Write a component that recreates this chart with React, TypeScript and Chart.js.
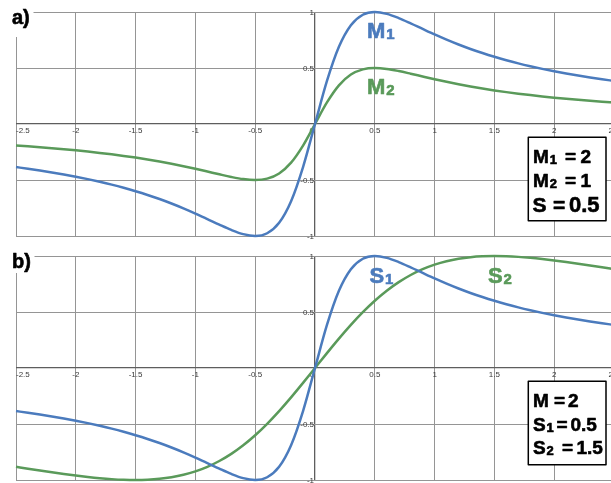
import { useEffect, useRef } from "react";
import { Chart, registerables } from "chart.js";

Chart.register(...registerables);

// ---------- data ----------
const xValues = [
  -2.5, -2.4, -2.3, -2.2, -2.1, -2.0, -1.9, -1.8, -1.7, -1.6, -1.5, -1.4, -1.3,
  -1.2, -1.1, -1.0, -0.9, -0.8, -0.7, -0.6, -0.5, -0.4, -0.3, -0.2, -0.1, 0,
  0.1, 0.2, 0.3, 0.4, 0.5, 0.6, 0.7, 0.8, 0.9, 1.0, 1.1, 1.2, 1.3, 1.4, 1.5,
  1.6, 1.7, 1.8, 1.9, 2.0, 2.1, 2.2, 2.3, 2.4, 2.5,
];

// panel a) blue curve M1
const curveM1 = [
  -0.3846, -0.3993, -0.4152, -0.4322, -0.4506, -0.4706, -0.4922, -0.5158, -0.5414,
  -0.5694, -0.6, -0.6335, -0.6701, -0.7101, -0.7534, -0.8, -0.8491, -0.8989,
  -0.9459, -0.9836, -1, -0.9756, -0.8824, -0.6897, -0.3846, 0,
  0.3846, 0.6897, 0.8824, 0.9756, 1, 0.9836, 0.9459, 0.8989, 0.8491, 0.8,
  0.7534, 0.7101, 0.6701, 0.6335, 0.6, 0.5694, 0.5414, 0.5158, 0.4922, 0.4706,
  0.4506, 0.4322, 0.4152, 0.3993, 0.3846,
];

// panel a) green curve M2
const curveM2 = [
  -0.1923, -0.1997, -0.2076, -0.2161, -0.2253, -0.2353, -0.2461, -0.2579, -0.2707,
  -0.2847, -0.3, -0.3167, -0.3351, -0.355, -0.3767, -0.4, -0.4245, -0.4494,
  -0.473, -0.4918, -0.5, -0.4878, -0.4412, -0.3448, -0.1923, 0,
  0.1923, 0.3448, 0.4412, 0.4878, 0.5, 0.4918, 0.473, 0.4494, 0.4245, 0.4,
  0.3767, 0.355, 0.3351, 0.3167, 0.3, 0.2847, 0.2707, 0.2579, 0.2461, 0.2353,
  0.2253, 0.2161, 0.2076, 0.1997, 0.1923,
];

// panel b) blue curve S1 (same shape as M1)
const curveS1 = [
  -0.3846, -0.3993, -0.4152, -0.4322, -0.4506, -0.4706, -0.4922, -0.5158, -0.5414,
  -0.5694, -0.6, -0.6335, -0.6701, -0.7101, -0.7534, -0.8, -0.8491, -0.8989,
  -0.9459, -0.9836, -1, -0.9756, -0.8824, -0.6897, -0.3846, 0,
  0.3846, 0.6897, 0.8824, 0.9756, 1, 0.9836, 0.9459, 0.8989, 0.8491, 0.8,
  0.7534, 0.7101, 0.6701, 0.6335, 0.6, 0.5694, 0.5414, 0.5158, 0.4922, 0.4706,
  0.4506, 0.4322, 0.4152, 0.3993, 0.3846,
];

// panel b) green curve S2
const curveS2 = [
  -0.8824, -0.8989, -0.9151, -0.9309, -0.9459, -0.96, -0.9727, -0.9836, -0.9922,
  -0.9979, -1, -0.9976, -0.9898, -0.9756, -0.9538, -0.9231, -0.8824, -0.8304,
  -0.7664, -0.6897, -0.6, -0.4979, -0.3846, -0.262, -0.1327, 0,
  0.1327, 0.262, 0.3846, 0.4979, 0.6, 0.6897, 0.7664, 0.8304, 0.8824, 0.9231,
  0.9538, 0.9756, 0.9898, 0.9976, 1, 0.9979, 0.9922, 0.9836, 0.9727, 0.96,
  0.9459, 0.9309, 0.9151, 0.8989, 0.8824,
];

const xTickLabels = ["-2.5", "-2", "-1.5", "-1", "-0.5", "0", "0.5", "1", "1.5", "2", "2.5"];
const yTickLabels = ["-1", "-0.5", "0", "0.5", "1"];

// ---------- styles ----------
const BLUE = "#4b7bbd";
const GREEN = "#5a9a5a";
const FONT = '"Liberation Sans", Arial, Helvetica, sans-serif';

type Seg = { t: string; x: number; size: number; sub?: string };
type BoxLine = { baseline: number; segs: Seg[] };
type CurveLabel = { main: string; sub: string; x: number; baseline: number; color: string };

type PanelSpec = {
  height: number;
  padTop: number;
  padBottom: number;
  panelLabel: string;
  labelBaseline: number;
  corner: [number, number, number, number];
  curves: { data: number[]; color: string }[];
  curveLabels: CurveLabel[];
  box: [number, number, number, number];
  boxLines: BoxLine[];
};

const panelA: PanelSpec = {
  height: 246,
  padTop: 12,
  padBottom: 10,
  panelLabel: "a)",
  labelBaseline: 24,
  corner: [9, 0, 24.5, 37],
  curves: [
    { data: curveM1, color: BLUE },
    { data: curveM2, color: GREEN },
  ],
  curveLabels: [
    { main: "M", sub: "1", x: 367, baseline: 38, color: BLUE },
    { main: "M", sub: "2", x: 367, baseline: 93.5, color: GREEN },
  ],
  box: [528.3, 137.3, 77.7, 83.4],
  boxLines: [
    { baseline: 162.5, segs: [{ t: "M", x: 533, size: 19, sub: "1" }, { t: "=", x: 565, size: 19 }, { t: "2", x: 580.5, size: 19 }] },
    { baseline: 187, segs: [{ t: "M", x: 533, size: 19, sub: "2" }, { t: "=", x: 565, size: 19 }, { t: "1", x: 580.5, size: 19 }] },
    { baseline: 211.5, segs: [{ t: "S", x: 532.5, size: 21 }, { t: "=", x: 553, size: 21 }, { t: "0.5", x: 569, size: 22 }] },
  ],
};

const panelB: PanelSpec = {
  height: 237,
  padTop: 10,
  padBottom: 3,
  panelLabel: "b)",
  labelBaseline: 22,
  corner: [9, 0, 25.5, 27],
  curves: [
    { data: curveS1, color: BLUE },
    { data: curveS2, color: GREEN },
  ],
  curveLabels: [
    { main: "S", sub: "1", x: 369.5, baseline: 37, color: BLUE },
    { main: "S", sub: "2", x: 488, baseline: 37, color: GREEN },
  ],
  box: [528.3, 135.3, 77.7, 83.4],
  boxLines: [
    { baseline: 161, segs: [{ t: "M", x: 533, size: 19 }, { t: "=", x: 554, size: 19 }, { t: "2", x: 568, size: 19 }] },
    { baseline: 184.5, segs: [{ t: "S", x: 533, size: 19, sub: "1" }, { t: "=", x: 556.5, size: 19 }, { t: "0.5", x: 570.5, size: 19 }] },
    { baseline: 208, segs: [{ t: "S", x: 533, size: 19, sub: "2" }, { t: "=", x: 562, size: 19 }, { t: "1.5", x: 576.5, size: 19 }] },
  ],
};

function heavyText(ctx: CanvasRenderingContext2D, t: string, x: number, y: number) {
  ctx.fillText(t, x, y);
  ctx.strokeText(t, x, y);
}

function drawMainSub(ctx: CanvasRenderingContext2D, main: string, sub: string | undefined, x: number, baseline: number, size: number) {
  ctx.font = `bold ${size}px ${FONT}`;
  heavyText(ctx, main, x, baseline);
  if (sub) {
    const w = ctx.measureText(main).width;
    ctx.font = `bold ${Math.round(size * 0.66)}px ${FONT}`;
    heavyText(ctx, sub, x + w + 0.8, baseline + 1);
  }
}

function makePlugin(p: PanelSpec) {
  return {
    id: "panelDecor",
    beforeDatasetsDraw(chart: any) {
      const ctx: CanvasRenderingContext2D = chart.ctx;
      const xs = chart.scales.x;
      const ys = chart.scales.y;
      const x0 = xs.getPixelForValue(0);
      const y0 = ys.getPixelForValue(0);
      ctx.save();
      // white patch behind the panel label
      ctx.fillStyle = "#ffffff";
      ctx.fillRect(p.corner[0], p.corner[1], p.corner[2], p.corner[3]);
      // tick labels placed along the centred axes
      ctx.font = `8px ${FONT}`;
      ctx.fillStyle = "#3a3a3a";
      ctx.textBaseline = "top";
      xTickLabels.forEach((t, i) => {
        const v = Number(t);
        if (v === 0) return;
        ctx.textAlign = i === 0 ? "left" : "center";
        ctx.fillText(t, xs.getPixelForValue(v), y0 + 2.5);
      });
      ctx.textAlign = "right";
      ctx.fillText("0", x0 - 1, y0 + 2.5);
      ctx.textBaseline = "middle";
      yTickLabels.forEach((t) => {
        const v = Number(t);
        if (v === 0) return;
        ctx.fillText(t, x0 - 1, ys.getPixelForValue(v) + 0.5);
      });
      ctx.restore();
    },
    afterDatasetsDraw(chart: any) {
      const ctx: CanvasRenderingContext2D = chart.ctx;
      ctx.save();
      ctx.textAlign = "left";
      ctx.textBaseline = "alphabetic";
      ctx.lineJoin = "round";
      // panel label
      ctx.fillStyle = "#000";
      ctx.strokeStyle = "#000";
      ctx.lineWidth = 0.6;
      ctx.font = `bold 20px ${FONT}`;
      heavyText(ctx, p.panelLabel, 12, p.labelBaseline);
      // curve labels
      p.curveLabels.forEach((l) => {
        ctx.fillStyle = l.color;
        ctx.strokeStyle = l.color;
        ctx.lineWidth = 0.6;
        drawMainSub(ctx, l.main, l.sub, l.x, l.baseline, 22);
      });
      // parameter box
      const [bx, by, bw, bh] = p.box;
      ctx.fillStyle = "#fff";
      ctx.fillRect(bx, by, bw, bh);
      ctx.strokeStyle = "#000";
      ctx.lineWidth = 1.5;
      ctx.strokeRect(bx, by, bw, bh);
      ctx.fillStyle = "#000";
      ctx.lineWidth = 0.6;
      p.boxLines.forEach((line) => {
        line.segs.forEach((s) => drawMainSub(ctx, s.t, s.sub, s.x, line.baseline, s.size));
      });
      ctx.restore();
    },
  };
}

function Panel({ spec }: { spec: PanelSpec }) {
  const ref = useRef<HTMLCanvasElement | null>(null);
  useEffect(() => {
    if (!ref.current) return;
    const gridColor = (c: any) => (c.tick && c.tick.value === 0 ? "#5e5e5e" : "#959595");
    const gridWidth = (c: any) => (c.tick && c.tick.value === 0 ? 1.3 : 1);
    const chart = new Chart(ref.current, {
      type: "line",
      data: {
        datasets: spec.curves.map((c) => ({
          data: xValues.map((x, i) => ({ x, y: c.data[i] })),
          borderColor: c.color,
          borderWidth: 2.5,
          pointRadius: 0,
          fill: false,
          cubicInterpolationMode: "monotone" as const,
          clip: false as any,
        })),
      },
      options: {
        animation: false,
        responsive: false,
        devicePixelRatio: 1,
        events: [],
        layout: { padding: { left: 16, right: 6, top: spec.padTop, bottom: spec.padBottom } },
        plugins: { legend: { display: false }, tooltip: { enabled: false } },
        scales: {
          x: {
            type: "linear",
            min: -2.5,
            max: 2.5,
            ticks: { display: false, stepSize: 0.5 },
            grid: { color: gridColor, lineWidth: gridWidth, drawTicks: false },
            border: { display: false },
          },
          y: {
            type: "linear",
            min: -1,
            max: 1,
            ticks: { display: false, stepSize: 0.5 },
            grid: { color: gridColor, lineWidth: gridWidth, drawTicks: false },
            border: { display: false },
          },
        },
      },
      plugins: [makePlugin(spec)],
    });
    return () => chart.destroy();
  }, [spec]);
  return (
    <canvas
      ref={ref}
      width={620}
      height={spec.height}
      style={{ display: "block", width: 620, height: spec.height }}
    />
  );
}

export default function App() {
  return (
    <div style={{ width: 611, height: 483, overflow: "hidden", background: "#fff", position: "relative" }}>
      <style>{`html,body{margin:0;padding:0;overflow:hidden;background:#fff}`}</style>
      <Panel spec={panelA} />
      <Panel spec={panelB} />
    </div>
  );
}
